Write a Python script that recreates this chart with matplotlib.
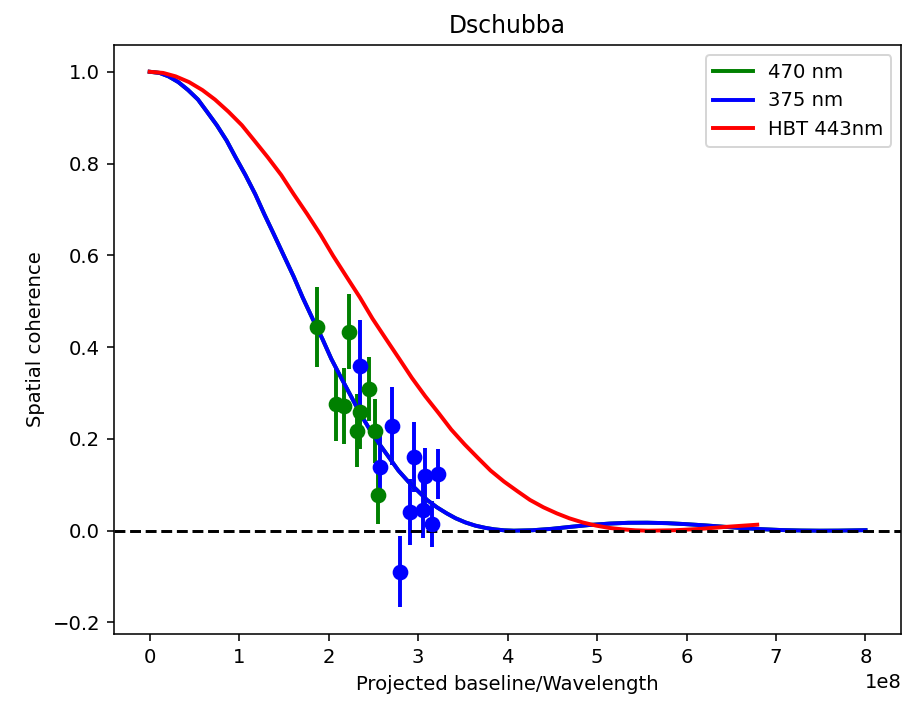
import matplotlib
matplotlib.use("Agg")
import matplotlib.pyplot as plt
import numpy as np

# measured points (baseline/wavelength in units of 1e8)
green_x = [1.872, 2.232, 2.077, 2.169, 2.447, 2.350, 2.317, 2.522, 2.551]
green_y = [0.443, 0.434, 0.276, 0.272, 0.309, 0.258, 0.218, 0.218, 0.078]
green_err = [0.087, 0.082, 0.080, 0.083, 0.070, 0.080, 0.080, 0.070, 0.063]

blue_x = [2.355, 2.706, 2.577, 2.955, 3.078, 3.218, 2.911, 3.059, 3.159, 2.800]
blue_y = [0.359, 0.229, 0.138, 0.160, 0.120, 0.124, 0.040, 0.044, 0.015, -0.089]
blue_err = [0.100, 0.085, 0.070, 0.076, 0.061, 0.055, 0.072, 0.060, 0.050, 0.078]

# model curves
fit_x = [0.00, 0.11, 0.21, 0.32, 0.43, 0.54, 0.64, 0.75, 0.86, 0.96, 1.07, 1.18,
         1.28, 1.39, 1.50, 1.61, 1.71, 1.82, 1.93, 2.03, 2.14, 2.25, 2.35, 2.46,
         2.57, 2.68, 2.78, 2.89, 3.00, 3.10, 3.21, 3.32, 3.42, 3.53, 3.64, 3.75,
         3.85, 3.96, 4.07, 4.28, 4.49, 4.71, 4.92, 5.14, 5.35, 5.56, 5.78, 5.99,
         6.21, 6.42, 6.63, 6.85, 7.06, 7.28, 7.49, 7.70, 7.92, 8.00]
fit_y = [1.000, 0.9975, 0.990, 0.9775, 0.960, 0.9394, 0.913, 0.8836, 0.850,
         0.8136, 0.775, 0.7331, 0.690, 0.6449, 0.599, 0.5533, 0.508, 0.4621,
         0.418, 0.3743, 0.333, 0.2929, 0.256, 0.2204, 0.188, 0.1582, 0.131,
         0.1070, 0.086, 0.0670, 0.051, 0.0377, 0.027, 0.0179, 0.011, 0.0062,
         0.003, 0.00085, 0.000, 0.001, 0.004, 0.0085, 0.0125, 0.0155, 0.0172,
         0.0174, 0.0164, 0.0143, 0.0115, 0.0085, 0.0056, 0.0032, 0.0014, 0.0004,
         0.0000, 0.0002, 0.0009, 0.0012]

hbt_x = [0.00, 0.15, 0.29, 0.44, 0.59, 0.73, 0.88, 1.03, 1.17, 1.32, 1.47, 1.61,
         1.76, 1.91, 2.05, 2.20, 2.35, 2.49, 2.64, 2.79, 2.93, 3.08, 3.23, 3.37,
         3.52, 3.67, 3.81, 3.96, 4.11, 4.25, 4.40, 4.55, 4.69, 4.84, 4.99, 5.13,
         5.28, 5.43, 5.57, 5.87, 6.16, 6.45, 6.75, 6.79]
hbt_y = [1.000, 0.9975, 0.990, 0.9775, 0.960, 0.9394, 0.913, 0.8836, 0.850,
         0.8136, 0.775, 0.7331, 0.690, 0.6449, 0.599, 0.5533, 0.508, 0.4621,
         0.418, 0.3743, 0.333, 0.2929, 0.256, 0.2204, 0.188, 0.1582, 0.131,
         0.1070, 0.086, 0.0670, 0.051, 0.0377, 0.027, 0.0179, 0.011, 0.0062,
         0.003, 0.00085, 0.000, 0.001, 0.004, 0.0085, 0.0125, 0.013]

scale = 1e8

fig = plt.figure(figsize=(6.4, 4.977), dpi=141.25)
ax = fig.add_axes([0.126, 0.098, 0.871, 0.838])

ax.errorbar(np.array(green_x) * scale, green_y, yerr=green_err, fmt='o',
            color='green', markersize=7, elinewidth=2)
ax.errorbar(np.array(blue_x) * scale, blue_y, yerr=blue_err, fmt='o',
            color='blue', markersize=7, elinewidth=2)

ax.plot(np.array(fit_x) * scale, fit_y, color='green', lw=2, label='470 nm')
ax.plot(np.array(fit_x) * scale, fit_y, color='blue', lw=2, label='375 nm')
ax.plot(np.array(hbt_x) * scale, hbt_y, color='red', lw=2, label='HBT 443nm')

ax.axhline(0, color='k', ls='--', lw=1.5)

ax.set_title('Dschubba')
ax.set_xlabel('Projected baseline/Wavelength')
ax.set_ylabel('Spatial coherence')
ax.legend(loc='upper right')

plt.savefig('out.png')
